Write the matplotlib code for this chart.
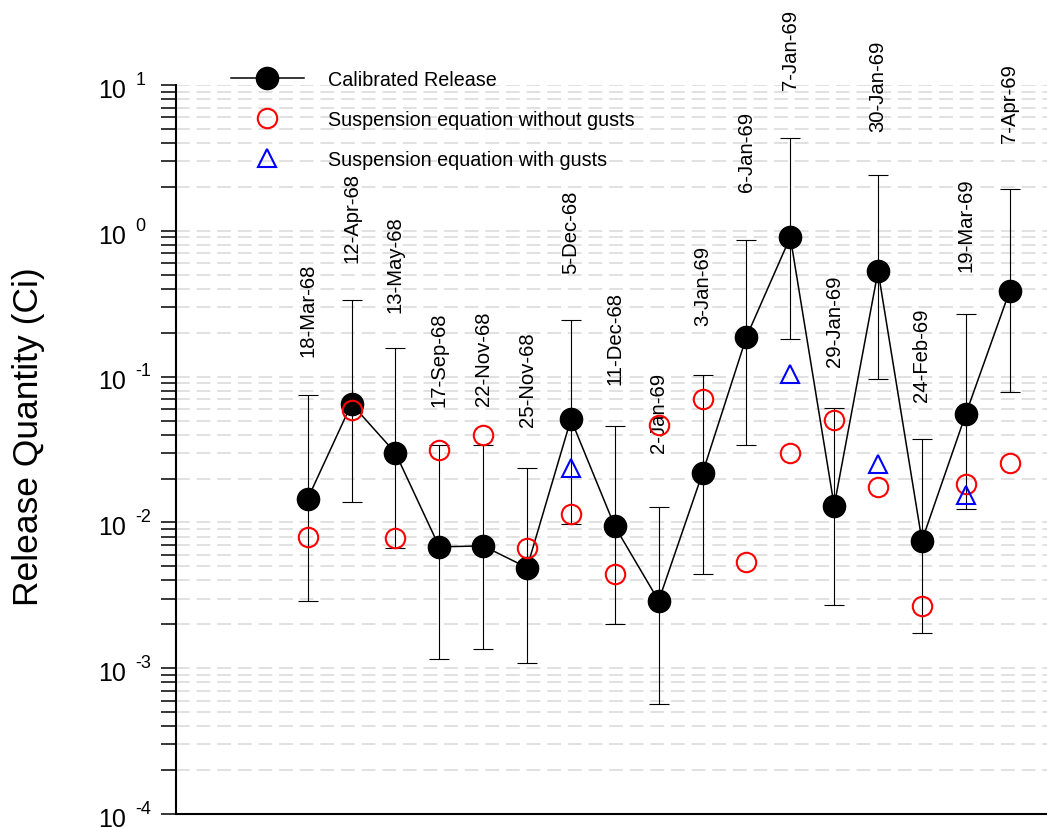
import numpy as np
import matplotlib
matplotlib.use("Agg")
import matplotlib.pyplot as plt
from matplotlib.lines import Line2D
from matplotlib.ticker import LogLocator, NullFormatter

plt.rcParams['font.family'] = ['Liberation Sans', 'DejaVu Sans']

# release events
dates = ["18-Mar-68", "12-Apr-68", "13-May-68", "17-Sep-68", "22-Nov-68",
         "25-Nov-68", "5-Dec-68", "11-Dec-68", "2-Jan-69", "3-Jan-69",
         "6-Jan-69", "7-Jan-69", "29-Jan-69", "30-Jan-69", "24-Feb-69",
         "19-Mar-69", "7-Apr-69"]

# calibrated release (Ci) with lower / upper bounds
calibrated = [0.0145, 0.065, 0.030, 0.0068, 0.0069, 0.0049, 0.051, 0.0094, 0.0029,
              0.0218, 0.187, 0.906, 0.0130, 0.53, 0.0075, 0.0554, 0.387]
err_low = [0.0029, 0.0137, 0.0067, 0.00116, 0.00135, 0.00108, 0.0097, 0.0020, 0.00057,
           0.00443, 0.034, 0.18, 0.0027, 0.0964, 0.00174, 0.0124, 0.078]
err_high = [0.0748, 0.337, 0.158, 0.034, 0.034, 0.0236, 0.245, 0.046, 0.0128,
            0.1026, 0.865, 4.3, 0.0607, 2.43, 0.0373, 0.267, 1.94]

# suspension equation estimates
no_gusts = [0.0080, 0.0593, 0.0078, 0.0312, 0.040, 0.00667, 0.0115, 0.00443, 0.0468,
            0.0702, 0.00535, 0.0298, 0.0506, 0.0174, 0.00267, 0.0183, 0.0255]
nan = np.nan
with_gusts = [nan, nan, nan, nan, nan, nan, 0.0235, nan, nan,
              nan, nan, 0.104, nan, 0.0251, nan, 0.0154, nan]

decades = [-4, -3, -2, -1, 0, 1]

# gap (px) between top of error bar and date label
label_gap = [39, 38, 36, 39, 40, 42, 47, 42, 55, 50, 49, 49, 42, 44, 38, 43, 47]

x = np.arange(len(dates))
cal = np.array(calibrated)
yerr = [cal - np.array(err_low), np.array(err_high) - cal]

fig = plt.figure(figsize=(10.47, 8.28), dpi=100)
ax = fig.add_axes([0.1681, 0.0157, 0.8319, 0.8804])

ax.errorbar(x, cal, yerr=yerr, fmt='none', ecolor='black', elinewidth=0.8,
            capsize=7.5, capthick=0.8, zorder=2)
ax.plot(x, cal, '-', color='black', lw=1.1, marker='o', ms=16,
        mfc='black', mec='black', zorder=3)
ax.plot(x, no_gusts, ls='none', marker='o', ms=14, mfc='none', mec='red',
        mew=1.5, zorder=4)
ax.plot(x, with_gusts, ls='none', marker='^', ms=13, mfc='none', mec='blue',
        mew=1.5, zorder=4)

for i, d in enumerate(dates):
    ax.annotate(d, (x[i], err_high[i]), xytext=(0, label_gap[i] * 0.72),
                textcoords='offset points', rotation=90, ha='center',
                va='bottom', fontsize=14.6, annotation_clip=False)

ax.set_yscale('log')
ax.set_ylim(1e-4, 10)
ax.set_xlim(-3, 16.85)

ax.set_yticks([10.0 ** k for k in decades])
ax.yaxis.set_minor_locator(LogLocator(base=10, subs=np.arange(2, 10), numticks=20))
ax.yaxis.set_major_formatter(NullFormatter())
ax.yaxis.set_minor_formatter(NullFormatter())
ax.tick_params(axis='y', which='both', direction='out', length=11, width=1.1)
ax.tick_params(axis='x', which='both', bottom=False, labelbottom=False)

# "10" and its exponent written as separate texts, with a gap between them
ytrans = ax.get_yaxis_transform()
for k in decades:
    ax.annotate('10', (0, 10.0 ** k), xycoords=ytrans, xytext=(-36, -3.5),
                textcoords='offset points', ha='right', va='center',
                fontsize=18, annotation_clip=False)
    ax.annotate('%d' % k, (0, 10.0 ** k), xycoords=ytrans, xytext=(-29, -2),
                textcoords='offset points', ha='left', va='bottom',
                fontsize=13, annotation_clip=False)

ax.grid(True, axis='y', which='both', color='#d9d9d9', lw=1.1,
        linestyle=(0, (9, 4.5)))
ax.set_axisbelow(True)

for s in ['top', 'right']:
    ax.spines[s].set_visible(False)
ax.spines['left'].set_linewidth(1.5)
ax.spines['bottom'].set_linewidth(1.5)

ax.set_ylabel('Release Quantity (Ci)', fontsize=25.5)
ax.yaxis.set_label_coords(-0.1506, 0.5185)

handles = [
    Line2D([], [], color='black', lw=1.1, marker='o', ms=16, mfc='black'),
    Line2D([], [], ls='none', marker='o', ms=14, mfc='none', mec='red', mew=1.5),
    Line2D([], [], ls='none', marker='^', ms=13, mfc='none', mec='blue', mew=1.5),
]
labels = ['Calibrated Release', 'Suspension equation without gusts',
          'Suspension equation with gusts']
ax.legend(handles, labels, loc='upper left', bbox_to_anchor=(0.2206, 0.914),
          bbox_transform=fig.transFigure, frameon=False, fontsize=14.2,
          handlelength=3.7, handletextpad=1.2, labelspacing=1.05,
          borderpad=0, borderaxespad=0)

fig.savefig('out.png', dpi=100)
